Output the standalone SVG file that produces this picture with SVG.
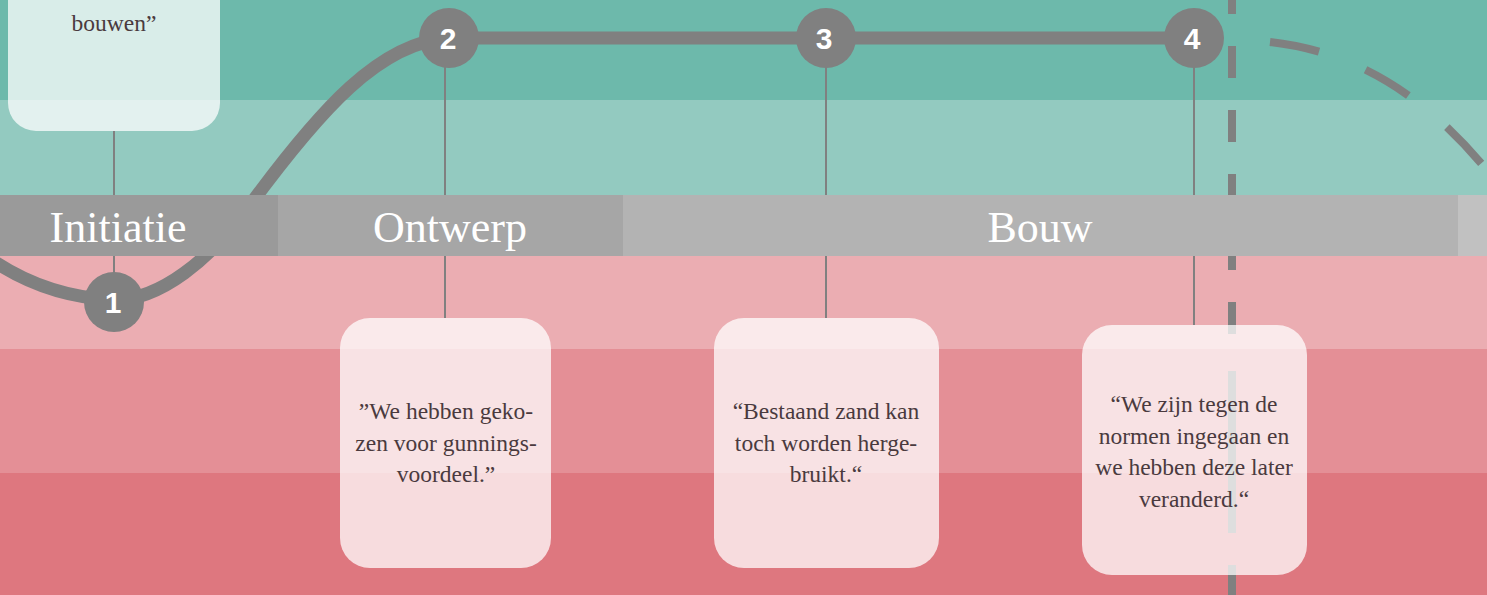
<svg xmlns="http://www.w3.org/2000/svg" width="1487" height="595" viewBox="0 0 1487 595">
<style>
.thin{stroke:#808080;stroke-width:2;fill:none}
.thick{stroke:#808080;stroke-width:13;fill:none;stroke-linecap:butt}
.dash{stroke:#808080;stroke-width:8;fill:none}
.num{font-family:"Liberation Sans",Arial,sans-serif;font-weight:bold;font-size:30px;fill:#ffffff;text-anchor:middle}
.phase{font-family:"Liberation Serif","Times New Roman",serif;font-size:44px;fill:#ffffff;text-anchor:middle}
.q{font-family:"Liberation Serif","Times New Roman",serif;font-size:23.5px;fill:#4a3a3e;text-anchor:middle}
.box{fill:#ffffff;fill-opacity:0.74}
.dot{fill:#808080}
</style>
<g id="background">
<rect x="0" y="0" width="1487" height="100" fill="#6db9ab"/>
<rect x="0" y="100" width="1487" height="95" fill="#93cac0"/>
<rect x="0" y="256" width="1487" height="93" fill="#ebadb2"/>
<rect x="0" y="349" width="1487" height="124" fill="#e48f96"/>
<rect x="0" y="473" width="1487" height="122" fill="#de777f"/>
</g>
<g id="connectors">
<line class="thin" x1="114" y1="131" x2="114" y2="290"/>
<line class="thin" x1="445" y1="38" x2="445" y2="318"/>
<line class="thin" x1="826" y1="38" x2="826" y2="318"/>
<line class="thin" x1="1194" y1="38" x2="1194" y2="325"/>
<path class="thick" d="M-5,262 C30,285 70,298 114,300 C160,300 210,260 250,205 C320,110 380,42 449,38"/>
<line class="thick" x1="449" y1="38" x2="1194" y2="38"/>
<line class="dash" x1="1232" y1="-18" x2="1232" y2="340" stroke-dasharray="32 32"/>
<line class="dash" x1="1232" y1="371" x2="1232" y2="533"/>
<line class="dash" x1="1232" y1="565" x2="1232" y2="600"/>
<path class="dash" d="M1270,42 C1360,52 1430,100 1490,174" stroke-dasharray="50 50"/>
</g>
<g id="phases">
<rect x="0" y="195" width="278" height="61" fill="#9a9a9a"/>
<rect x="278" y="195" width="345" height="61" fill="#a6a6a6"/>
<rect x="623" y="195" width="835" height="61" fill="#b3b3b3"/>
<rect x="1458" y="195" width="29" height="61" fill="#c1c1c1"/>
<text class="phase" x="118" y="242">Initiatie</text>
<text class="phase" x="450" y="242">Ontwerp</text>
<text class="phase" x="1040" y="242">Bouw</text>
</g>
<g id="node1">
<circle class="dot" cx="114" cy="302" r="30"/>
<text class="num" x="113" y="313">1</text>
</g>
<g id="node2">
<circle class="dot" cx="449" cy="38" r="30"/>
<text class="num" x="448" y="49">2</text>
</g>
<g id="node3">
<circle class="dot" cx="826" cy="38" r="30"/>
<text class="num" x="824" y="49">3</text>
</g>
<g id="node4">
<circle class="dot" cx="1194" cy="38" r="30"/>
<text class="num" x="1192" y="49">4</text>
</g>
<g id="quote1">
<rect class="box" x="8" y="-40" width="212" height="171" rx="28"/>
<text class="q" x="114" y="31">bouwen”</text>
</g>
<g id="quote2">
<rect class="box" x="340" y="318" width="211" height="250" rx="30"/>
<text class="q" x="446" y="419">”We hebben geko-</text>
<text class="q" x="446" y="451">zen voor gunnings-</text>
<text class="q" x="446" y="482">voordeel.”</text>
</g>
<g id="quote3">
<rect class="box" x="714" y="318" width="225" height="250" rx="30"/>
<text class="q" x="826" y="419">“Bestaand zand kan</text>
<text class="q" x="826" y="451">toch worden herge-</text>
<text class="q" x="826" y="482">bruikt.“</text>
</g>
<g id="quote4">
<rect class="box" x="1082" y="325" width="225" height="250" rx="30"/>
<text class="q" x="1194" y="412">“We zijn tegen de</text>
<text class="q" x="1194" y="444">normen ingegaan en</text>
<text class="q" x="1194" y="475">we hebben deze later</text>
<text class="q" x="1194" y="507">veranderd.“</text>
</g>
</svg>
